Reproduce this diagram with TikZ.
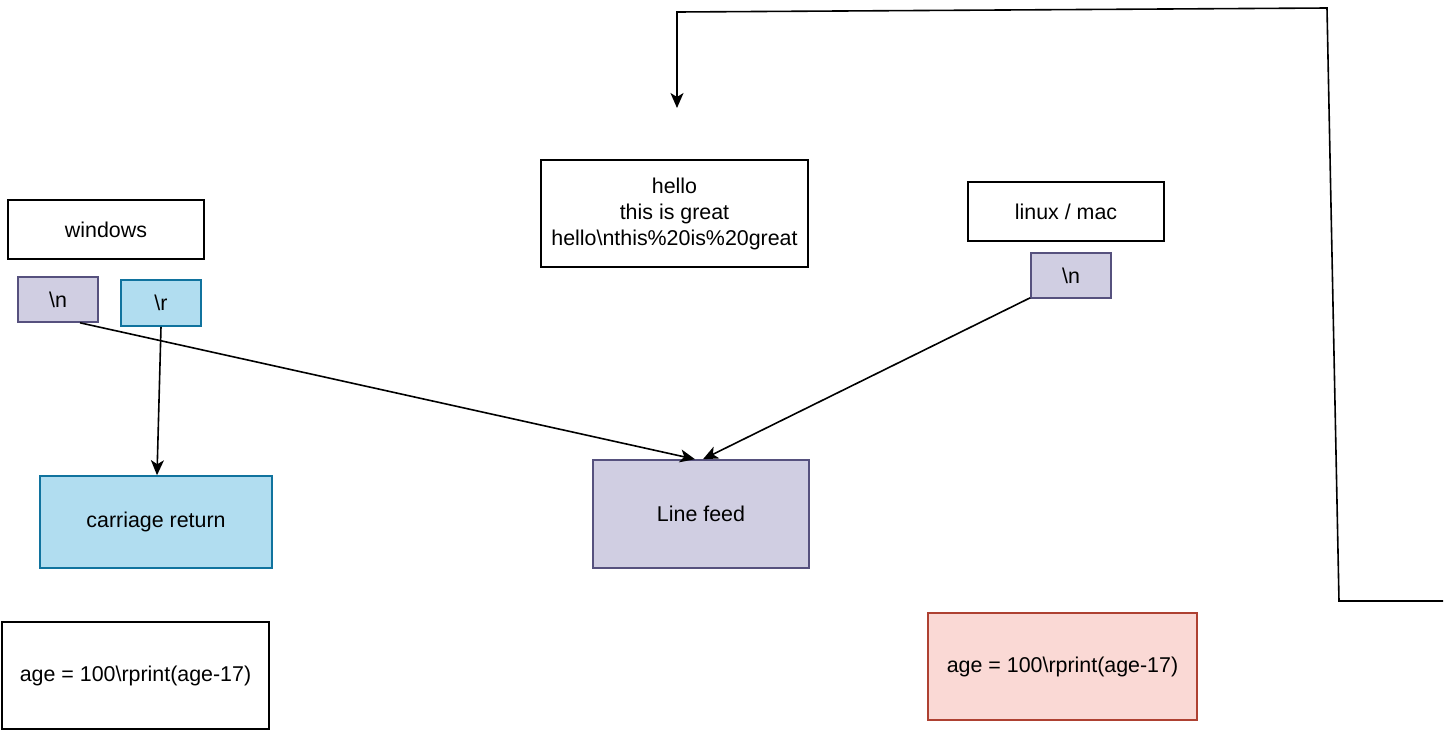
\documentclass[tikz,border=0pt]{standalone}
\usepackage{fontspec}
\setmainfont{Liberation Sans}
\usetikzlibrary{arrows.meta}
\definecolor{purfill}{HTML}{D0CEE2}
\definecolor{purline}{HTML}{56517E}
\definecolor{bluefill}{HTML}{B1DDF0}
\definecolor{blueline}{HTML}{10739E}
\definecolor{redfill}{HTML}{FAD9D5}
\definecolor{redline}{HTML}{AE4132}
\begin{document}
\begin{tikzpicture}[x=0.5pt,y=-0.5pt,
  box/.style={draw=black,line width=0.8pt,inner sep=0pt,align=center,font=\fontsize{10.7}{13}\selectfont},
  purbox/.style={box,draw=purline,fill=purfill},
  bluebox/.style={box,draw=blueline,fill=bluefill},
  redbox/.style={box,draw=redline,fill=redfill},
  conn/.style={line width=0.8pt,-{Stealth[length=7.5pt,width=6.5pt,inset=2pt]}}]
\useasboundingbox (0,0) rectangle (1453,740);
\node[box,minimum width=98pt,minimum height=29.5pt] (win) at (106,229.5) {windows};
\node[purbox,minimum width=40pt,minimum height=22.5pt] (wn) at (58,299.5) {\textbackslash n};
\node[bluebox,minimum width=40pt,minimum height=23pt] (wr) at (161,303) {\textbackslash r};
\node[bluebox,minimum width=116pt,minimum height=46pt] (cr) at (156,522) {carriage return};
\node[box,minimum width=133.5pt,minimum height=53.5pt] (hello) at (674.5,213.5) {hello\\this is great\\hello\textbackslash nthis\%20is\%20great};
\node[box,minimum width=98pt,minimum height=29.5pt] (lin) at (1066,211.5) {linux / mac};
\node[purbox,minimum width=40pt,minimum height=22.5pt] (ln) at (1071,275.5) {\textbackslash n};
\node[purbox,minimum width=108pt,minimum height=54pt] (lf) at (701,514) {Line feed};
\node[box,minimum width=133.5pt,minimum height=53.5pt] (age1) at (135.5,675.5) {age = 100\textbackslash rprint(age-17)};
\node[redbox,minimum width=134.5pt,minimum height=53.5pt] (age2) at (1062.5,666.5) {age = 100\textbackslash rprint(age-17)};
% connectors
\draw[conn] ([xshift=11pt]wn.south) -- ([xshift=-3pt]lf.north);
\draw[conn] (wr.south) -- ([xshift=0.5pt]cr.north);
\draw[conn] ([yshift=0.5pt]ln.south west) -- ([xshift=1pt]lf.north);
% free path
\coordinate (pstart) at (1443,601);
\coordinate (pend) at (677,108);
\draw[conn] (pstart) -- (1339,601) -- (1327,8) -- (677,12) -- (pend);
\end{tikzpicture}
\end{document}
